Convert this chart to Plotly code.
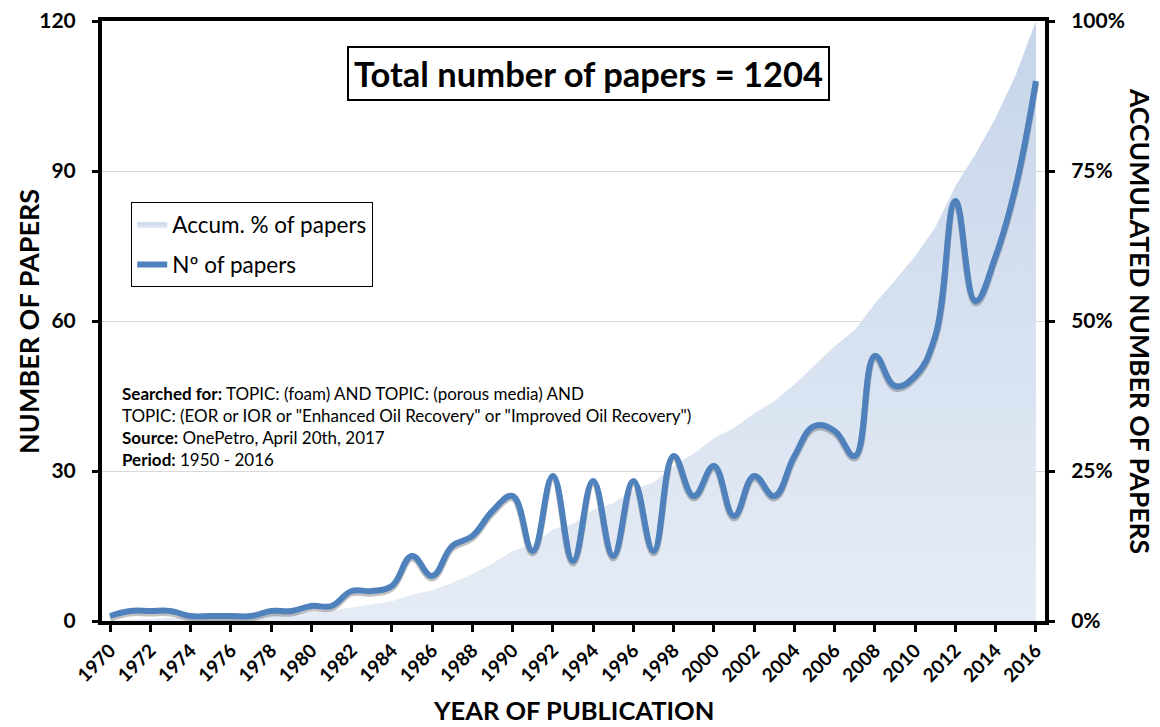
import plotly.graph_objects as go

years = list(range(1970, 2017))
papers = [1, 2, 2, 2, 1, 1, 1, 1, 2, 2,
          3, 3, 6, 6, 7, 13, 9, 15, 17, 22,
          25, 14, 29, 12, 28, 13, 28, 14, 33, 25,
          31, 21, 29, 25, 33, 39, 38, 33, 53, 47,
          49, 57, 84, 64, 73, 87, 108]

# accumulated share of papers (from the counts)
total = sum(papers)
accum = []
run = 0
for p in papers:
    run += p
    accum.append(run / total)

FONT = "Lato"
BLUE = "#4f81bd"

fig = go.Figure()

# area on primary (percentage) axis, drawn underneath
fig.add_trace(go.Scatter(
    x=years, y=accum, yaxis="y", name="Accum. % of papers", legendgroup="a",
    mode="lines", line=dict(width=0, color="rgba(205,218,236,1)"),
    fill="tozeroy",
    fillgradient=dict(type="vertical",
                      colorscale=[[0, "#e6ecf5"], [1, "#c6d5ea"]]),
    hoverinfo="skip",
))

# soft shadow of the line (same data, on a hidden axis nudged down a little)
fig.add_trace(go.Scatter(
    x=years, y=papers, yaxis="y2", showlegend=False, hoverinfo="skip",
    mode="lines", line=dict(color="rgba(50,50,50,0.30)", width=6.5,
                            shape="spline", smoothing=1.2),
))

# line on overlaying count axis, drawn on top
fig.add_trace(go.Scatter(
    x=years, y=papers, yaxis="y3", name="Nº of papers", legendgroup="b",
    mode="lines", line=dict(color=BLUE, width=6, shape="spline", smoothing=1.2),
))

fig.update_layout(
    width=1152, height=719,
    margin=dict(l=94, r=115, t=13, b=106),
    paper_bgcolor="white", plot_bgcolor="white",
    font=dict(family=FONT, color="black"),
    showlegend=True,
    legend=dict(
        x=0.031, y=0.698, xanchor="left", yanchor="top",
        bordercolor="black", borderwidth=1, bgcolor="white",
        font=dict(size=22.5, family=FONT, color="black"),
        traceorder="grouped", tracegroupgap=8, itemwidth=30,
    ),
    xaxis=dict(
        range=[1969.6, 2016.45], automargin=False,
        tickmode="array", tickvals=years[::2], ticktext=[str(y) for y in years[::2]],
        tickangle=-45,
        tickfont=dict(size=19, family=FONT, color="black", weight="bold"),
        showline=True, linecolor="black", linewidth=4, mirror=True,
        ticks="outside", ticklen=7, tickwidth=3, tickcolor="black",
        showgrid=False, zeroline=False,
    ),
    yaxis=dict(
        side="right", range=[0, 1], automargin=False,
        tickvals=[0, 0.25, 0.5, 0.75, 1.0], tickformat=".0%",
        tickfont=dict(size=21, family=FONT, color="black", weight="bold"),
        showline=True, linecolor="black", linewidth=4,
        ticks="outside", ticklen=6, tickwidth=3, tickcolor="black",
        ticklabelstandoff=12, ticklabeloverflow="allow",
        showgrid=True, gridcolor="#d9d9d9", gridwidth=1, zeroline=False,
    ),
    yaxis2=dict(
        overlaying="y", side="left", range=[0.45, 120.45], automargin=False,
        visible=False, showgrid=False, zeroline=False,
    ),
    yaxis3=dict(
        overlaying="y", side="left", range=[0, 120], automargin=False,
        tickvals=[0, 30, 60, 90, 120],
        tickfont=dict(size=21, family=FONT, color="black", weight="bold"),
        showline=True, linecolor="black", linewidth=4,
        ticks="outside", ticklen=6, tickwidth=3, tickcolor="black",
        ticklabelstandoff=12, ticklabeloverflow="allow",
        showgrid=False, zeroline=False,
    ),
    annotations=[
        dict(text="<b>Total number of papers = 1204</b>", x=0.516, y=0.912,
             xref="paper", yref="paper", xanchor="center", yanchor="middle",
             showarrow=False,
             font=dict(size=34.5, family=FONT, color="black"),
             bordercolor="black", borderwidth=2, borderpad=5, bgcolor="white"),
        dict(text=("<b>Searched for:</b> TOPIC: (foam) AND TOPIC: (porous media) AND<br>"
                   "TOPIC: (EOR or IOR or \"Enhanced Oil Recovery\" or \"Improved Oil Recovery\")<br>"
                   "<b>Source:</b> OnePetro, April 20th, 2017<br>"
                   "<b>Period:</b> 1950 - 2016"),
             x=0.019, y=0.40, xref="paper", yref="paper",
             xanchor="left", yanchor="top", align="left", showarrow=False,
             font=dict(size=17, family=FONT, color="black")),
        dict(text="<b>NUMBER OF PAPERS</b>", x=-0.0785, y=0.5,
             xref="paper", yref="paper", xanchor="center", yanchor="middle",
             showarrow=False, textangle=-90,
             font=dict(size=27, family=FONT, color="black")),
        dict(text="<b>ACCUMULATED NUMBER OF PAPERS</b>", x=1.1007, y=0.5,
             xref="paper", yref="paper", xanchor="center", yanchor="middle",
             showarrow=False, textangle=90,
             font=dict(size=26.5, family=FONT, color="black")),
        dict(text="<b>YEAR OF PUBLICATION</b>", x=0.5, y=-0.149,
             xref="paper", yref="paper", xanchor="center", yanchor="middle",
             showarrow=False,
             font=dict(size=25.5, family=FONT, color="black")),
    ],
)

fig.write_html("out.html")
